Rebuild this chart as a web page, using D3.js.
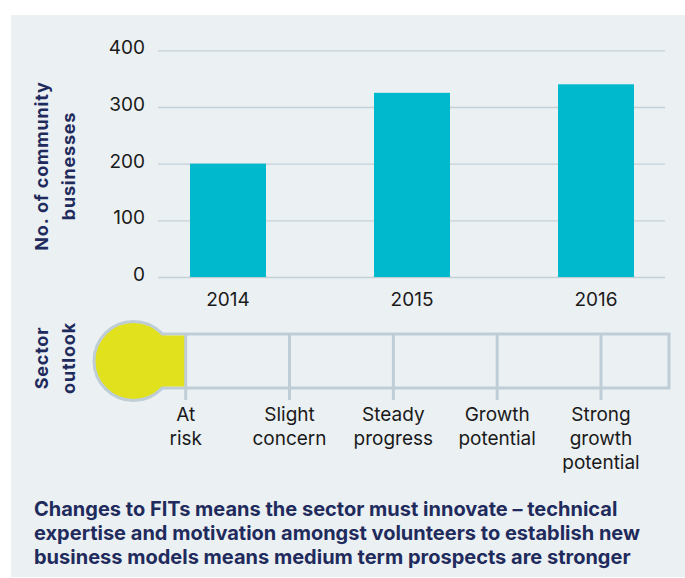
<!DOCTYPE html>
<html>
<head>
<meta charset="utf-8">
<script src="https://cdn.jsdelivr.net/npm/d3@7"></script>
<style>
  body { margin: 0; background: #fff; }
  text { font-family: Inter, Lato, sans-serif; }
</style>
</head>
<body>
<div id="chart"></div>
<script>
const years = ["2014", "2015", "2016"];
const businesses = [200, 325, 340];
const yTicks = [0, 100, 200, 300, 400];
const outlookLevels = ["At risk", "Slight concern", "Steady progress", "Growth potential", "Strong growth potential"];
const outlookLines = [["At", "risk"], ["Slight", "concern"], ["Steady", "progress"], ["Growth", "potential"], ["Strong", "growth", "potential"]];
const currentOutlook = "At risk";
const yTitle = ["No. of community", "businesses"];
const outlookTitle = ["Sector", "outlook"];
const caption = [
  "Changes to FITs means the sector must innovate \u2013 technical",
  "expertise and motivation amongst volunteers to establish new",
  "business models means medium term prospects are stronger"
];

const W = 685, H = 578;
const navy = "#1f2b5c";
const teal = "#00b9cd";
const yellow = "#e1e21d";
const lineCol = "#bfcdd6";
const bg = "#ebf0f3";
const ink = "#1a1a1a";

const svg = d3.select("#chart").append("svg")
  .attr("width", W)
  .attr("height", H);

// panel
svg.append("rect")
  .attr("x", 11).attr("y", 15)
  .attr("width", W - 11).attr("height", 562)
  .attr("fill", bg);

const plot = { left: 158, right: 666, top: 50.3, bottom: 277 };

const x = d3.scaleBand()
  .domain(years)
  .range([plot.left, plot.right])
  .paddingInner(0.587)
  .paddingOuter(0.174);

const y = d3.scaleLinear()
  .domain([0, 400])
  .range([plot.bottom, plot.top]);

// y axis + gridlines
const gy = svg.append("g")
  .attr("transform", `translate(${plot.left},0)`)
  .call(d3.axisLeft(y).tickValues(yTicks).tickSize(-(665 - plot.left)).tickPadding(13));
gy.select(".domain").remove();
gy.selectAll(".tick line").attr("stroke", "#c3d0d8").attr("stroke-width", 1.3);
gy.selectAll(".tick text")
  .attr("font-size", 19)
  .attr("fill", ink)
  .attr("dy", "0.19em");

// bars
svg.append("g")
  .selectAll("rect")
  .data(years)
  .join("rect")
  .attr("x", d => x(d))
  .attr("y", (d, i) => y(businesses[i]))
  .attr("width", x.bandwidth())
  .attr("height", (d, i) => y(0) - y(businesses[i]))
  .attr("fill", teal);

// x axis
const gx = svg.append("g")
  .attr("transform", `translate(0,${plot.bottom})`)
  .call(d3.axisBottom(x).tickSize(0).tickPadding(16));
gx.select(".domain").remove();
gx.selectAll(".tick text")
  .attr("font-size", 19)
  .attr("fill", ink);

// rotated titles
let rotTitle = (lines, cx, cy) => {
  const t = svg.append("text")
    .attr("transform", `translate(${cx},${cy}) rotate(-90)`)
    .attr("text-anchor", "middle")
    .attr("font-size", 18)
    .attr("font-weight", 700)
    .attr("letter-spacing", 0.8)
    .attr("fill", navy);
  lines.forEach((l, i) => {
    t.append("tspan")
      .attr("x", 0)
      .attr("y", i * 27)
      .text(l);
  });
};
rotTitle(yTitle, 47.5, 166);
rotTitle(outlookTitle, 48, 358);

// sector outlook gauge
const o = d3.scalePoint()
  .domain(outlookLevels)
  .range([185.7, 601]);

const gauge = { top: 334, bottom: 388, right: 669, cx: 133.5, cy: 361, r: 39.5 };

svg.append("rect")
  .attr("x", gauge.cx)
  .attr("y", gauge.top)
  .attr("width", gauge.right - gauge.cx)
  .attr("height", gauge.bottom - gauge.top)
  .attr("fill", bg)
  .attr("stroke", lineCol)
  .attr("stroke-width", 3);

svg.append("circle")
  .attr("cx", gauge.cx)
  .attr("cy", gauge.cy)
  .attr("r", gauge.r)
  .attr("fill", yellow)
  .attr("stroke", lineCol)
  .attr("stroke-width", 3);

svg.append("rect")
  .attr("x", gauge.cx)
  .attr("y", gauge.top + 1.5)
  .attr("width", o(currentOutlook) - gauge.cx)
  .attr("height", gauge.bottom - gauge.top - 3)
  .attr("fill", yellow);

svg.append("g")
  .selectAll("line")
  .data(outlookLevels)
  .join("line")
  .attr("x1", d => o(d))
  .attr("x2", d => o(d))
  .attr("y1", gauge.top)
  .attr("y2", 400)
  .attr("stroke", lineCol)
  .attr("stroke-width", 3);

const lbl = svg.append("g")
  .selectAll("text")
  .data(outlookLevels)
  .join("text")
  .attr("text-anchor", "middle")
  .attr("font-size", 19)
  .attr("fill", ink);
lbl.each(function (d, i) {
  d3.select(this).selectAll("tspan")
    .data(outlookLines[i])
    .join("tspan")
    .attr("x", o(d))
    .attr("y", (l, j) => 421 + j * 24)
    .text(l => l);
});

// caption
svg.append("g")
  .selectAll("text")
  .data(caption)
  .join("text")
  .attr("x", 34)
  .attr("y", (d, i) => 515.5 + i * 24)
  .attr("font-size", 20)
  .attr("font-weight", 700)
  .attr("fill", navy)
  .text(d => d);
</script>
</body>
</html>
